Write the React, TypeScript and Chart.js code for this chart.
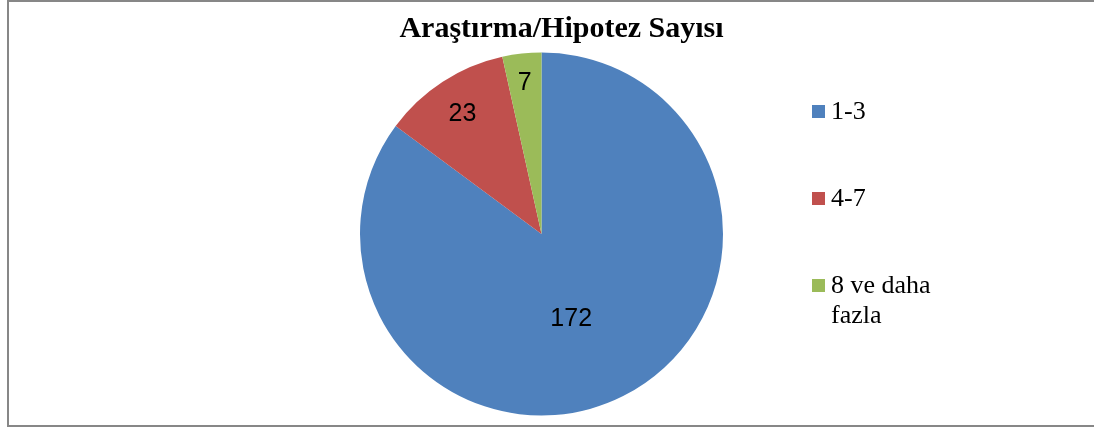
import React, { useEffect, useRef } from "react";
import { Chart, registerables } from "chart.js";

Chart.register(...registerables);

const categories = ["1-3", "4-7", "8 ve daha fazla"];
const counts = [172, 23, 7];
const sliceColors = ["#4F81BD", "#C0504D", "#9BBB59"];
const chartTitle = "Araştırma/Hipotez Sayısı";

// label placement (fraction of radius, angle shift in degrees)
const labelRadius = [0.485, 0.8, 0.85];
const labelShift = [7, 0, 0];

const framePlugin = {
  id: "frame",
  beforeDraw(chart: any) {
    const ctx = chart.ctx;
    ctx.save();
    ctx.fillStyle = "#ffffff";
    ctx.fillRect(0, 0, chart.width, chart.height);
    ctx.fillStyle = "#878787";
    ctx.fillRect(7, 0, chart.width - 7, 2);
    ctx.fillRect(7, 0, 2, 427);
    ctx.fillRect(7, 425, chart.width - 7, 2);
    ctx.restore();
  },
};

const labelPlugin = {
  id: "sliceLabels",
  afterDatasetsDraw(chart: any) {
    const ctx = chart.ctx;
    const meta = chart.getDatasetMeta(0);
    const fs = 25;
    ctx.save();
    ctx.font = `${fs}px "Liberation Sans", Arial, sans-serif`;
    ctx.fillStyle = "#000000";
    ctx.textAlign = "center";
    ctx.textBaseline = "alphabetic";
    meta.data.forEach((arc: any, i: number) => {
      const p = arc.getProps(["x", "y", "startAngle", "endAngle", "outerRadius"], true);
      const mid = (p.startAngle + p.endAngle) / 2 + (labelShift[i] * Math.PI) / 180;
      const r = p.outerRadius * labelRadius[i];
      const cx = p.x + Math.cos(mid) * r;
      const cy = p.y + Math.sin(mid) * r;
      ctx.fillText(String(chart.data.datasets[0].data[i]), cx, cy + fs * 0.358);
    });
    ctx.restore();
  },
};

const titleLegendPlugin = {
  id: "titleLegend",
  afterDraw(chart: any) {
    const ctx = chart.ctx;
    ctx.save();
    ctx.fillStyle = "#000000";
    ctx.textAlign = "center";
    ctx.textBaseline = "alphabetic";
    ctx.font = `bold 30px "Liberation Serif", "Times New Roman", serif`;
    ctx.fillText(chartTitle, 561.5, 36.5);

    ctx.textAlign = "left";
    const fs = 26;
    ctx.font = `${fs}px "Liberation Serif", "Times New Roman", serif`;
    const labels: string[] = chart.data.labels;
    const colors: string[] = chart.data.datasets[0].backgroundColor;
    const maxW = 130;
    labels.forEach((lab, i) => {
      const base = 119 + i * 87;
      ctx.fillStyle = colors[i];
      ctx.fillRect(812, base - 14, 13, 13);
      ctx.fillStyle = "#000000";
      const words = lab.split(" ");
      const lines: string[] = [];
      let cur = "";
      words.forEach((w) => {
        const t = cur ? cur + " " + w : w;
        if (ctx.measureText(t).width > maxW && cur) {
          lines.push(cur);
          cur = w;
        } else cur = t;
      });
      if (cur) lines.push(cur);
      lines.forEach((ln, k) => ctx.fillText(ln, 831, base + k * 30));
    });
    ctx.restore();
  },
};

export default function App() {
  const ref = useRef<HTMLCanvasElement | null>(null);
  useEffect(() => {
    if (!ref.current) return;
    const chart = new Chart(ref.current, {
      type: "pie",
      data: {
        labels: categories,
        datasets: [
          {
            data: counts,
            backgroundColor: sliceColors,
            borderWidth: 0,
          },
        ],
      },
      options: {
        responsive: false,
        animation: false,
        devicePixelRatio: 1,
        layout: { padding: { left: 360, right: 371, top: 52.5, bottom: 12.5 } },
        plugins: {
          legend: { display: false },
          title: { display: false },
          tooltip: { enabled: false },
        },
      },
      plugins: [framePlugin, labelPlugin, titleLegendPlugin],
    });
    return () => chart.destroy();
  }, []);
  return (
    <div style={{ position: "absolute", left: 0, top: 0, width: 1094, height: 428, overflow: "hidden" }}>
      <canvas ref={ref} width={1094} height={428} style={{ width: 1094, height: 428, display: "block" }} />
    </div>
  );
}
